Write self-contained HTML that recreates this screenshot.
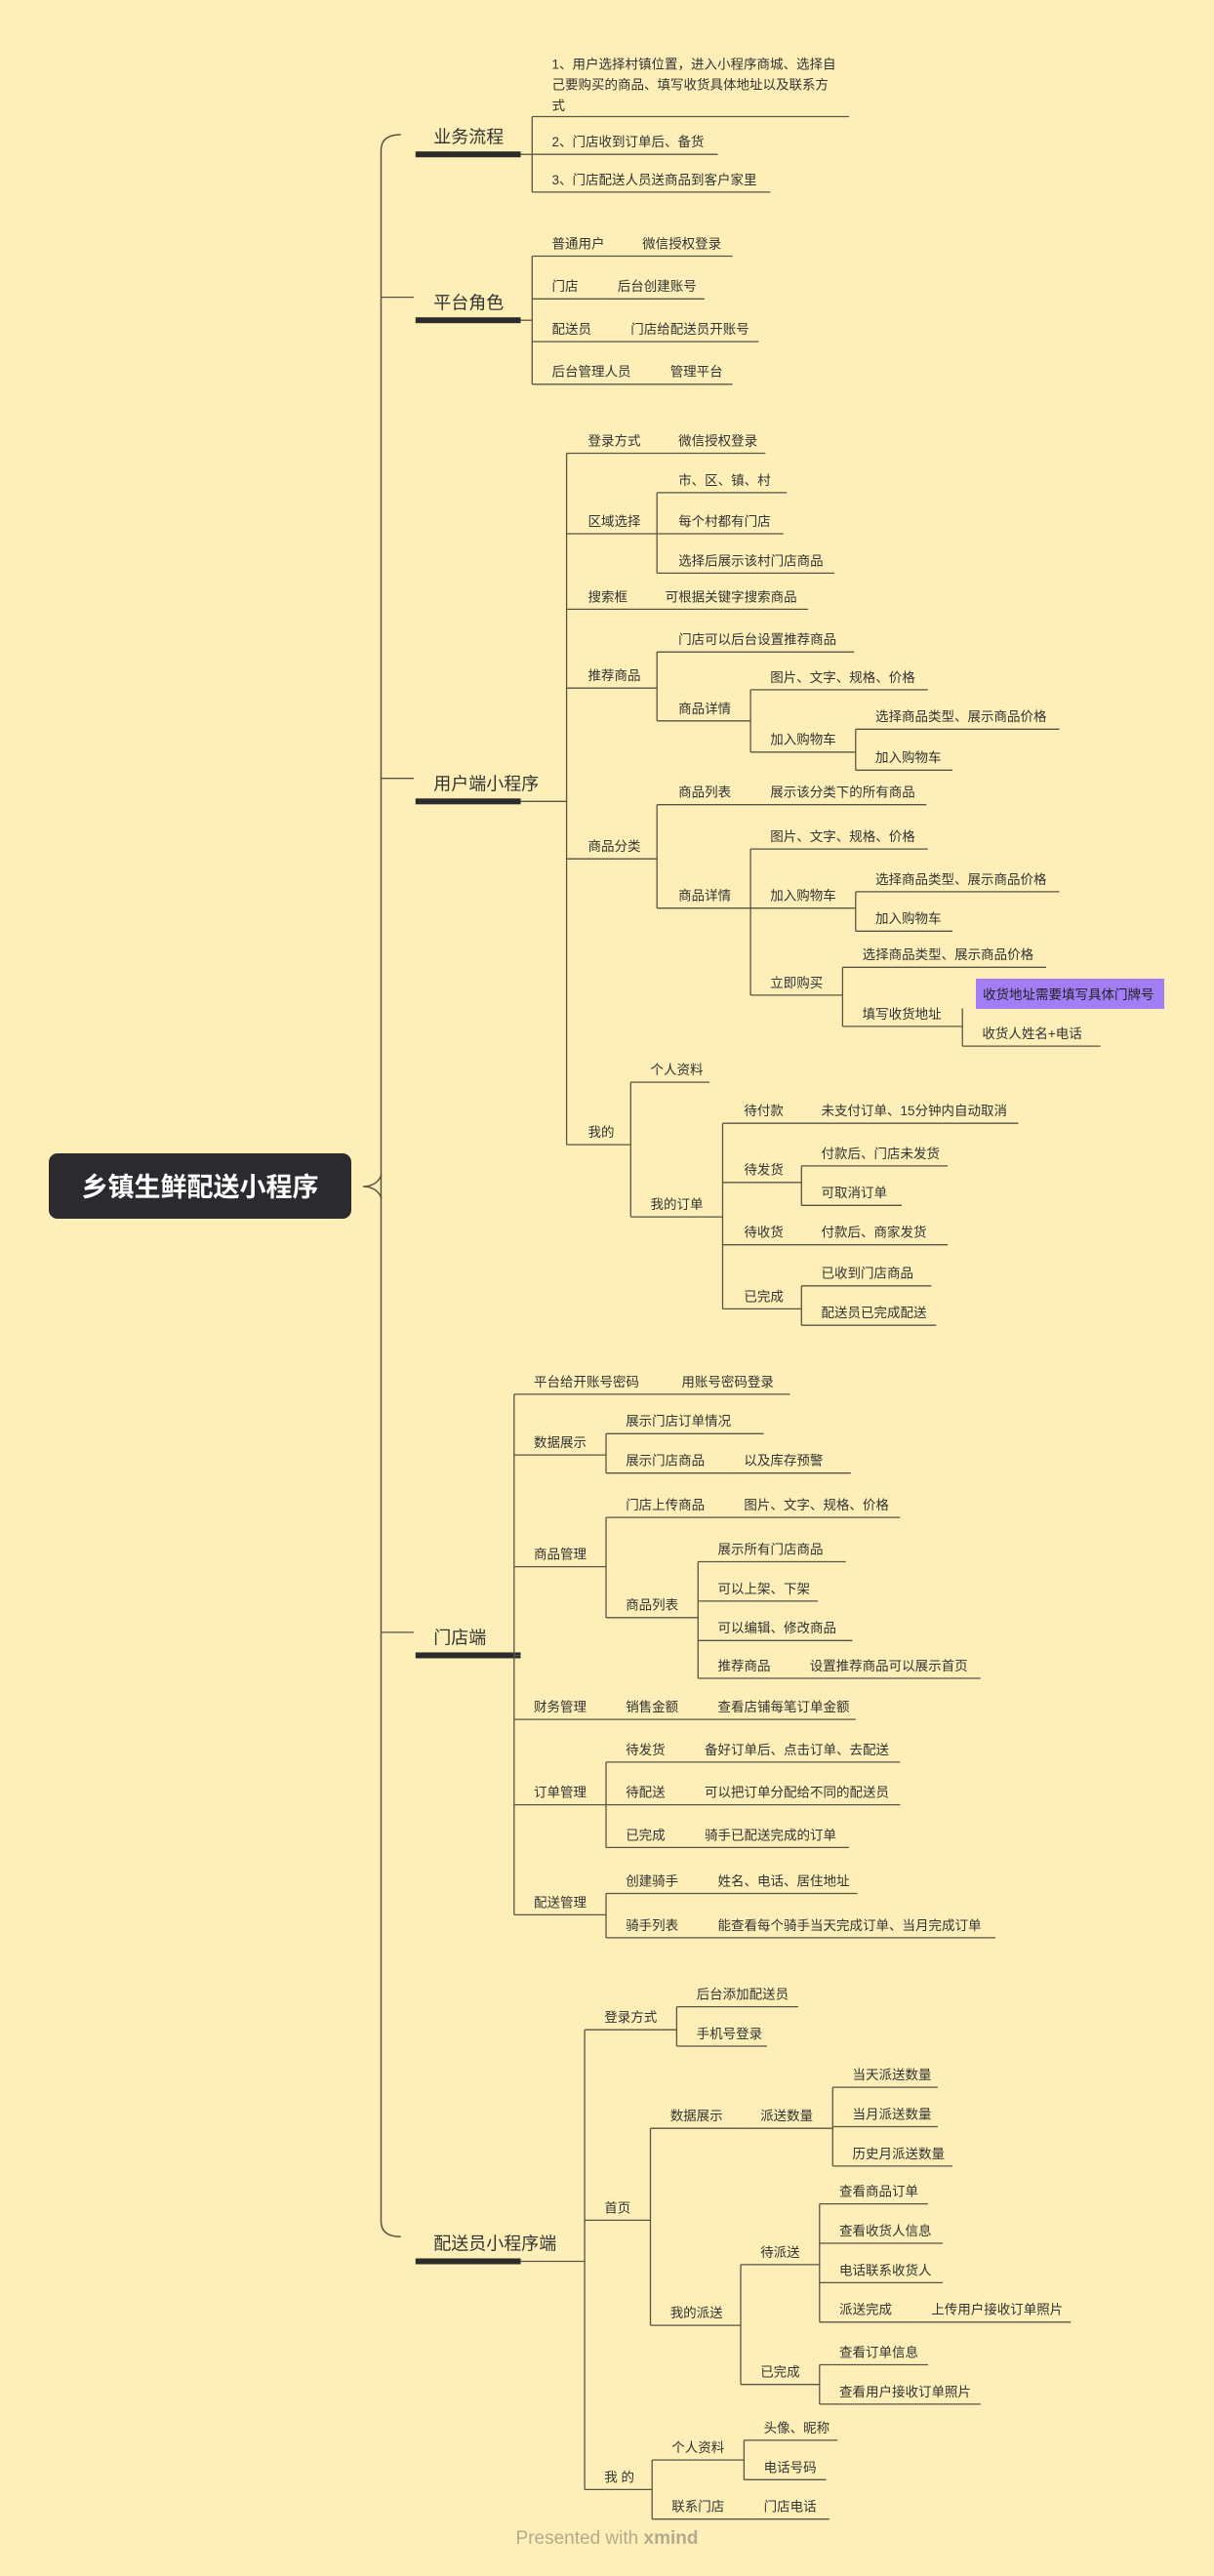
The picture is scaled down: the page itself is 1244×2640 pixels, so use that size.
<!DOCTYPE html>
<html><head><meta charset="utf-8">
<style>
html,body{margin:0;padding:0;background:#fdefb7;}
svg{display:block}
text{font-family:"Liberation Sans","Noto Sans CJK SC",sans-serif;fill:#333;}
</style></head>
<body>
<svg id="s" width="1244" height="2640" xmlns="http://www.w3.org/2000/svg"></svg>
<script>
var S=1.683;
function n(t,tx,y,x2,k){return {t:t,tx:tx,y:y,x2:x2,k:k||[]};}
var branches=[
 {t:"业务流程",y:94,x2:324,k:[
   n("ML",336,71,517),
   n("2、门店收到订单后、备货",336,94,437),
   n("3、门店配送人员送商品到客户家里",336,117,469)]},
 {t:"平台角色",y:195,x2:324,k:[
   n("普通用户",336,156,null,[n("微信授权登录",391,156,446)]),
   n("门店",336,182,null,[n("后台创建账号",376,182,429)]),
   n("配送员",336,208,null,[n("门店给配送员开账号",384,208,462)]),
   n("后台管理人员",336,234,null,[n("管理平台",408,234,446)])]},
 {t:"用户端小程序",y:488,x2:345,k:[
   n("登录方式",358,276,null,[n("微信授权登录",413,276,466)]),
   n("区域选择",358,325,400,[n("市、区、镇、村",413,300,479),n("每个村都有门店",413,325,477),n("选择后展示该村门店商品",413,349,508)]),
   n("搜索框",358,371,null,[n("可根据关键字搜索商品",405,371,492)]),
   n("推荐商品",358,419,400,[n("门店可以后台设置推荐商品",413,397,520),
     n("商品详情",413,439,457,[n("图片、文字、规格、价格",469,420,565),
       n("加入购物车",469,458,521,[n("选择商品类型、展示商品价格",533,444,645),n("加入购物车",533,469,580)])])]),
   n("商品分类",358,523,400,[n("商品列表",413,490,null,[n("展示该分类下的所有商品",469,490,564)]),
     n("商品详情",413,553,457,[n("图片、文字、规格、价格",469,517,565),
       n("加入购物车",469,553,521,[n("选择商品类型、展示商品价格",533,543,645),n("加入购物车",533,567,580)]),
       n("立即购买",469,606,513,[n("选择商品类型、展示商品价格",525,589,637),
         n("填写收货地址",525,625,586,[n("HL",598,614,709),n("收货人姓名+电话",598,637,670)])])])]),
   n("我的",358,697,384,[n("个人资料",396,659,432),
     n("我的订单",396,741,440,[
       n("待付款",453,684,null,[n("未支付订单、15分钟内自动取消",500,684,620)]),
       n("待发货",453,720,488,[n("付款后、门店未发货",500,710,577),n("可取消订单",500,734,549)]),
       n("待收货",453,758,null,[n("付款后、商家发货",500,758,577)]),
       n("已完成",453,797,488,[n("已收到门店商品",500,783,567),n("配送员已完成配送",500,807,570)])])])]},
 {t:"门店端",y:1008,x2:313,k:[
   n("平台给开账号密码",325,849,null,[n("用账号密码登录",415,849,481)]),
   n("数据展示",325,886,369,[n("展示门店订单情况",381,873,465),n("展示门店商品",381,897,null,[n("以及库存预警",453,897,518)])]),
   n("商品管理",325,954,369,[n("门店上传商品",381,924,null,[n("图片、文字、规格、价格",453,924,548)]),
     n("商品列表",381,985,425,[n("展示所有门店商品",437,951,515),n("可以上架、下架",437,975,498),n("可以编辑、修改商品",437,999,519),n("推荐商品",437,1022,null,[n("设置推荐商品可以展示首页",493,1022,597)])])]),
   n("财务管理",325,1047,null,[n("销售金额",381,1047,null,[n("查看店铺每笔订单金额",437,1047,521)])]),
   n("订单管理",325,1099,369,[n("待发货",381,1073,null,[n("备好订单后、点击订单、去配送",429,1073,548)]),n("待配送",381,1099,null,[n("可以把订单分配给不同的配送员",429,1099,548)]),n("已完成",381,1125,null,[n("骑手已配送完成的订单",429,1125,517)])]),
   n("配送管理",325,1166,369,[n("创建骑手",381,1153,null,[n("姓名、电话、居住地址",437,1153,522)]),n("骑手列表",381,1180,null,[n("能查看每个骑手当天完成订单、当月完成订单",437,1180,606)])])]},
 {t:"配送员小程序端",y:1377,x2:356,k:[
   n("登录方式",368,1236,412,[n("后台添加配送员",424,1222,486),n("手机号登录",424,1246,467)]),
   n("首页",368,1352,396,[n("数据展示",408,1296,null,[n("派送数量",463,1296,507,[n("当天派送数量",519,1271,571),n("当月派送数量",519,1295,571),n("历史月派送数量",519,1319,580)])]),
     n("我的派送",408,1416,451,[n("待派送",463,1379,499,[n("查看商品订单",511,1342,565),n("查看收货人信息",511,1366,574),n("电话联系收货人",511,1390,574),n("派送完成",511,1414,null,[n("上传用户接收订单照片",567,1414,652)])]),
       n("已完成",463,1452,499,[n("查看订单信息",511,1440,565),n("查看用户接收订单照片",511,1464,597)])])]),
   n("我 的",368,1516,397,[n("个人资料",409,1498,453,[n("头像、昵称",465,1486,510),n("电话号码",465,1510,503)]),n("联系门店",409,1534,null,[n("门店电话",465,1534,505)])])]}
];
var out=[];var LC="#5b5344";
function L(x1,y1,x2,y2,w){out.push('<line x1="'+(x1*S).toFixed(1)+'" y1="'+(y1*S).toFixed(1)+'" x2="'+(x2*S).toFixed(1)+'" y2="'+(y2*S).toFixed(1)+'" stroke="'+(w?'#2b2b2b':LC)+'" stroke-width="'+(w||1.3)+'"/>');}
function T(s,x,y,fs,extra){out.push('<text x="'+(x*S).toFixed(1)+'" y="'+(y*S).toFixed(1)+'" font-size="'+fs+'" '+(extra||'')+'>'+s+'</text>');}
function draw(nd,x1){
  if(nd.x2==null) nd.x2=nd.k[0].tx-8;
  if(nd.t=="HL"){
    out.push('<rect x="1000" y="1003" width="193" height="31" fill="#a27df6"/>');
    out.push('<text x="1007" y="1024" font-size="13.5" style="fill:#222">收货地址需要填写具体门牌号</text>');
  } else if(nd.t=="ML"){
    T("1、用户选择村镇位置，进入小程序商城、选择自",nd.tx,42,13.5);
    T("己要购买的商品、填写收货具体地址以及联系方",nd.tx,54.5,13.5);
    T("式",nd.tx,67,13.5);
    L(x1,nd.y,nd.x2,nd.y);
  } else {
    T(nd.t,nd.tx,nd.y-4.8,13.5);
    L(x1,nd.y,nd.x2,nd.y);
  }
  kids(nd);
}
function kids(nd){
  if(!nd.k.length)return;
  var ys=nd.k.map(function(c){return c.y;}).concat([nd.y]);
  var lo=Math.min.apply(null,ys),hi=Math.max.apply(null,ys);
  if(hi>lo)L(nd.x2,lo,nd.x2,hi);
  nd.k.forEach(function(c){draw(c,nd.x2);});
}
out.push('<rect x="50" y="1182" width="310" height="67" rx="9" fill="#2b2b2f"/>');
out.push('<text x="205" y="1226" font-size="27" font-weight="bold" text-anchor="middle" style="fill:#fff">乡镇生鲜配送小程序</text>');
out.push('<path d="M372 1216 Q386 1216 391 1204 M372 1216 Q386 1216 391 1228" fill="none" stroke="'+LC+'" stroke-width="1.5"/>');
var tTop=82*S,tBot=1362*S,tX=232*S;
out.push('<path d="M'+(244*S)+' '+tTop+' Q'+tX+' '+tTop+' '+tX+' '+(tTop+16)+' L'+tX+' '+(tBot-16)+' Q'+tX+' '+tBot+' '+(244*S)+' '+tBot+'" fill="none" stroke="'+LC+'" stroke-width="1.5"/>');
branches.forEach(function(b){
  var ly=b.y-14;
  if(b.t!="业务流程"&&b.t!="配送员小程序端") L(232,ly,252,ly);
  T(b.t,264,b.y-7,18);
  out.push('<rect x="'+(253*S)+'" y="'+(b.y*S-3)+'" width="'+(64*S)+'" height="6" fill="#2b2b2b"/>');
  L(317,b.y,b.x2,b.y);
  kids(b);
});
out.push('<text x="622" y="2607" font-size="19" text-anchor="middle" style="fill:#b5ab8c">Presented with <tspan font-weight="bold">xmind</tspan></text>');
document.getElementById('s').innerHTML=out.join('');
</script>
</body></html>
